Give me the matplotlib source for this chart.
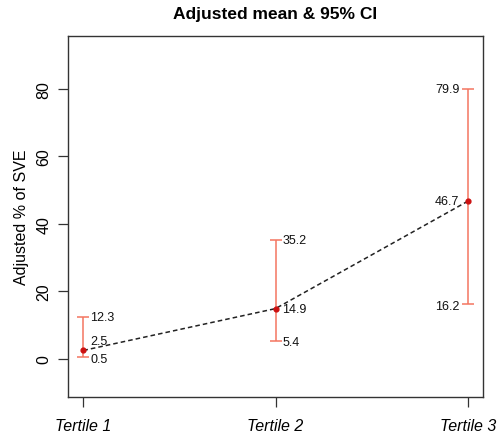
import matplotlib
matplotlib.use("Agg")
import matplotlib.pyplot as plt

categories = ["Tertile 1", "Tertile 2", "Tertile 3"]
means = [2.5, 14.9, 46.7]
lower = [0.5, 5.4, 16.2]
upper = [12.3, 35.2, 79.9]
yticks = [0, 20, 40, 60, 80]

plt.rcParams['font.family'] = ['Liberation Sans', 'DejaVu Sans']

fig = plt.figure(figsize=(4.97, 4.35), dpi=100)
ax = fig.add_axes([68/497, 37/435, (483-68)/497, (398-37)/435])

x = [1, 2, 3]
bar_color = "#F47560"
ax.plot(x, means, linestyle=(0, (3, 2)), color="#222222", linewidth=1.1, zorder=2)
for xi, m, lo, hi in zip(x, means, lower, upper):
    ax.errorbar([xi], [m], yerr=[[m - lo], [hi - m]], fmt='none', ecolor=bar_color,
                elinewidth=1.1, capsize=4, capthick=1.1, zorder=3)
ax.scatter(x, means, s=12, color="#CC1111", zorder=4)

# value labels
for i, (xi, m, lo, hi) in enumerate(zip(x, means, lower, upper)):
    if i < 2:
        dx, ha = 5, 'left'
    else:
        dx, ha = -6, 'right'
    mdy = 7 if i == 0 else 0
    for val, dy in ((hi, 0), (m, mdy), (lo, -1)):
        ax.annotate(f"{val:.1f}", (xi, val), xytext=(dx, dy), textcoords='offset points',
                    ha=ha, va='center', fontsize=9, color="#111111")

ax.set_xlim(0.92, 3.08)
ax.set_ylim(-11.3, 95.7)
ax.set_xticks(x)
ax.set_xticklabels(categories, fontsize=11.5, style='italic')
ax.set_yticks(yticks)
ax.set_yticklabels([str(t) for t in yticks], fontsize=11.5, rotation=90, va='center')
ax.tick_params(axis='both', direction='out', length=7, width=0.9, color="#333333", pad=5)
ax.tick_params(axis='x', pad=8)
for s in ax.spines.values():
    s.set_linewidth(1.0)
    s.set_color("#333333")

ax.set_ylabel("Adjusted % of SVE", fontsize=11.5, labelpad=5)
ax.set_title("Adjusted mean & 95% CI", fontsize=12.5, fontweight='bold', pad=13)

fig.savefig("out.png", dpi=100)
